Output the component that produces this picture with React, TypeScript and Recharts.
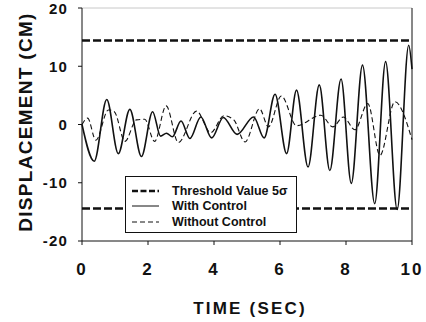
import { LineChart, Line, XAxis, YAxis, ReferenceLine } from "recharts"

const timeTicks = [0, 2, 4, 6, 8, 10]
const displacementTicks = [-20, -10, 0, 10, 20]
const thresholdLevels = [14.4, -14.4]

// peaks / troughs
const withControlTime = [0, 0.37, 0.75, 1.1, 1.45, 1.8, 2.14, 2.38, 2.56, 2.74, 3.0, 3.27, 3.6, 3.93, 4.28, 4.7, 5.2, 5.52, 5.85, 6.2, 6.5, 6.85, 7.19, 7.51, 7.85, 8.16, 8.5, 8.87, 9.2, 9.55, 9.9, 10]
const withControlDisp = [0, -6.3, 4.3, -5.0, 2.6, -5.5, 2.2, -2.0, -1.5, -2.1, 0.6, -2.4, 1.3, -2.3, 1.2, -1.7, 1.3, -2.3, 5.2, -5.0, 5.9, -7.3, 6.8, -7.9, 7.8, -10.1, 10.2, -13.6, 10.8, -14.6, 13.6, 9.5]

const withoutControlTime = [0, 0.17, 0.42, 0.8, 0.98, 1.3, 1.65, 1.9, 2.2, 2.55, 2.92, 3.47, 3.9, 4.3, 4.6, 4.94, 5.38, 5.65, 6.04, 6.5, 7.24, 7.6, 7.92, 8.27, 8.66, 9.03, 9.48, 10]
const withoutControlDisp = [0, 1.1, -2.7, 2.5, 2.2, -2.9, 0.8, 0.9, -2.9, 3.2, -3.1, 2.3, -1.4, 1.5, 0.8, -3.0, 2.7, -0.4, 4.9, -0.2, 1.6, -0.4, 1.3, -0.9, 3.6, -5.3, 3.9, -2.6]

const legendItems = [
  { label: "Threshold Value 5σ", width: 2.5, dash: "6 2.5" },
  { label: "With Control", width: 1, dash: undefined },
  { label: "Without Control", width: 1, dash: "5 3" },
]

const withControl = withControlTime.map((t, i) => ({ t, v: withControlDisp[i] }))
const withoutControl = withoutControlTime.map((t, i) => ({ t, v: withoutControlDisp[i] }))

const FONT = "'Liberation Sans', Arial, Helvetica, sans-serif"
const INK = "#111"

const YTitle = () => (
  <text
    x={25}
    y={122}
    transform="rotate(-90 25 122)"
    textAnchor="middle"
    dominantBaseline="central"
    fontFamily={FONT}
    fontWeight="bold"
    fontSize={19}
    letterSpacing={1.3}
    fill={INK}
  >
    DISPLACEMENT (CM)
  </text>
)

const XTitle = () => (
  <text
    x={250}
    y={314}
    textAnchor="middle"
    fontFamily={FONT}
    fontWeight="bold"
    fontSize={17}
    letterSpacing={2.2}
    fill={INK}
  >
    TIME (SEC)
  </text>
)

export default function App() {
  return (
    <div style={{ position: "absolute", left: 0, top: 0, width: 426, height: 322, background: "#fff" }}>
      <LineChart width={426} height={322} margin={{ top: 0, right: 0, bottom: 0, left: 0 }}>
        <XAxis
          dataKey="t"
          type="number"
          domain={[0, 10]}
          ticks={timeTicks}
          height={81}
          tickSize={4}
          tickMargin={18}
          stroke={INK}
          tick={{ fill: INK, fontSize: 17, fontWeight: "bold", fontFamily: FONT, letterSpacing: 2 }}
          label={<XTitle />}
        />
        <XAxis xAxisId="top" orientation="top" type="number" domain={[0, 10]} height={8} tick={false} tickLine={false} stroke="#c8c8c8" />
        <YAxis
          type="number"
          domain={[-20, 20]}
          ticks={displacementTicks}
          width={82}
          tickSize={4}
          tickMargin={10}
          stroke={INK}
          tick={{ fill: INK, fontSize: 15, fontWeight: "bold", fontFamily: FONT, letterSpacing: 1.2 }}
          label={<YTitle />}
        />
        <YAxis yAxisId="right" orientation="right" type="number" domain={[-20, 20]} width={14} tick={false} tickLine={false} stroke={INK} />
        {thresholdLevels.map((y) => (
          <ReferenceLine key={y} y={y} stroke={INK} strokeWidth={2.5} strokeDasharray="8 3" />
        ))}
        <Line
          data={withoutControl}
          dataKey="v"
          type="monotone"
          stroke={INK}
          strokeWidth={1.1}
          strokeDasharray="5 3"
          dot={false}
          activeDot={false}
          isAnimationActive={false}
        />
        <Line
          data={withControl}
          dataKey="v"
          type="monotone"
          stroke={INK}
          strokeWidth={1.6}
          dot={false}
          activeDot={false}
          isAnimationActive={false}
        />
      </LineChart>
      <div
        style={{
          position: "absolute",
          left: 125,
          top: 176,
          width: 172,
          height: 57,
          boxSizing: "border-box",
          border: `1px solid ${INK}`,
          background: "#fff",
          paddingTop: 6,
          fontFamily: FONT,
          fontWeight: "bold",
          fontSize: 12.5,
          color: INK,
        }}
      >
        {legendItems.map((item) => (
          <div key={item.label} style={{ display: "flex", alignItems: "center", height: 15.5 }}>
            <svg width={27} height={6} style={{ marginLeft: 6, marginRight: 13 }}>
              <line x1={0} y1={3} x2={27} y2={3} stroke={INK} strokeWidth={item.width} strokeDasharray={item.dash} />
            </svg>
            <span>{item.label}</span>
          </div>
        ))}
      </div>
    </div>
  )
}
